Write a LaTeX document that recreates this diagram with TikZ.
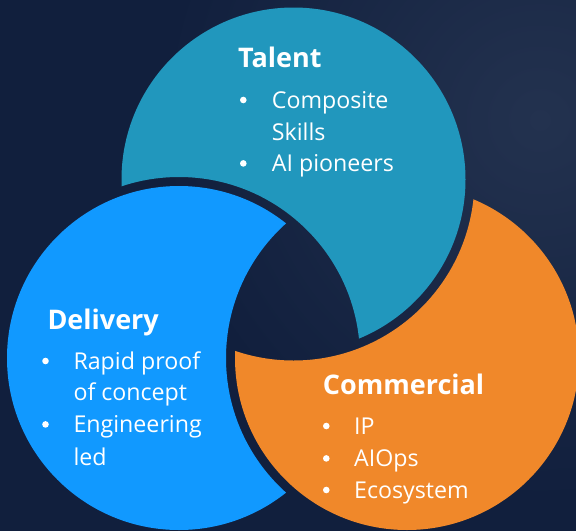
\documentclass[tikz,border=0pt]{standalone}
\usepackage{fontspec}
\setmainfont{Open Sans}
\definecolor{bgdark}{HTML}{111F3D}
\definecolor{bglight}{HTML}{23324F}
\definecolor{talentc}{HTML}{2197BD}
\definecolor{deliveryc}{HTML}{1199FF}
\definecolor{commc}{HTML}{F0882A}
\begin{document}
\begin{tikzpicture}[x=1pt,y=-1pt,
  titletext/.style={anchor=base west, inner sep=0pt, text=white, font=\fontsize{27}{27}\selectfont\bfseries},
  itemtext/.style={anchor=base west, inner sep=0pt, text=white, font=\fontsize{23.2}{23.2}\selectfont},
  bulletdot/.style={fill=white}]
\useasboundingbox (0,0) rectangle (576,531);
\begin{scope}
\clip (0,0) rectangle (576,531);
\fill[bgdark] (0,0) rectangle (576,531);
\shade[inner color=bglight, outer color=bgdark] (540,120) circle[radius=380pt];
\coordinate (T) at (293.5,179.5);
\coordinate (D) at (179,358);
\coordinate (C) at (407,358);
% Talent = T minus enlarged D
\begin{scope}
\clip (T) circle[radius=172pt];
\fill[talentc, even odd rule] (-50,-50) rectangle (650,600) (D) circle[radius=181pt];
\end{scope}
% Delivery = D minus enlarged C
\begin{scope}
\clip (D) circle[radius=172pt];
\fill[deliveryc, even odd rule] (-50,-50) rectangle (650,600) (C) circle[radius=181pt];
\end{scope}
% Commercial = C minus enlarged T
\begin{scope}
\clip (C) circle[radius=172pt];
\fill[commc, even odd rule] (-50,-50) rectangle (650,600) (T) circle[radius=181pt];
\end{scope}
\end{scope}

% Talent text
\node[titletext] (ttitle) at (238,67.7) {Talent};
\fill[bulletdot] (243.3,100) circle[radius=3.3pt];
\node[itemtext] (t1) at (271.7,108.3) {Composite};
\node[itemtext] (t2) at (271.7,140) {Skills};
\fill[bulletdot] (243.3,163.4) circle[radius=3.3pt];
\node[itemtext] (t3) at (271.7,171.7) {AI pioneers};

% Delivery text
\node[titletext] (dtitle) at (47.3,329.3) {Delivery};
\fill[bulletdot] (45.5,361) circle[radius=3.3pt];
\node[itemtext] (d1) at (73.3,369.3) {Rapid proof};
\node[itemtext] (d2) at (73.3,400.5) {of concept};
\fill[bulletdot] (45.5,424.4) circle[radius=3.3pt];
\node[itemtext] (d3) at (73.3,432.7) {Engineering};
\node[itemtext] (d4) at (73.3,465) {led};

% Commercial text
\node[titletext] (ctitle) at (322.7,394) {Commercial};
\fill[bulletdot] (326.3,426) circle[radius=3.3pt];
\node[itemtext] (c1) at (354,434.3) {IP};
\fill[bulletdot] (326.3,458.4) circle[radius=3.3pt];
\node[itemtext] (c2) at (354,466.7) {AIOps};
\fill[bulletdot] (326.3,490) circle[radius=3.3pt];
\node[itemtext] (c3) at (354,498.3) {Ecosystem};
\end{tikzpicture}
\end{document}
